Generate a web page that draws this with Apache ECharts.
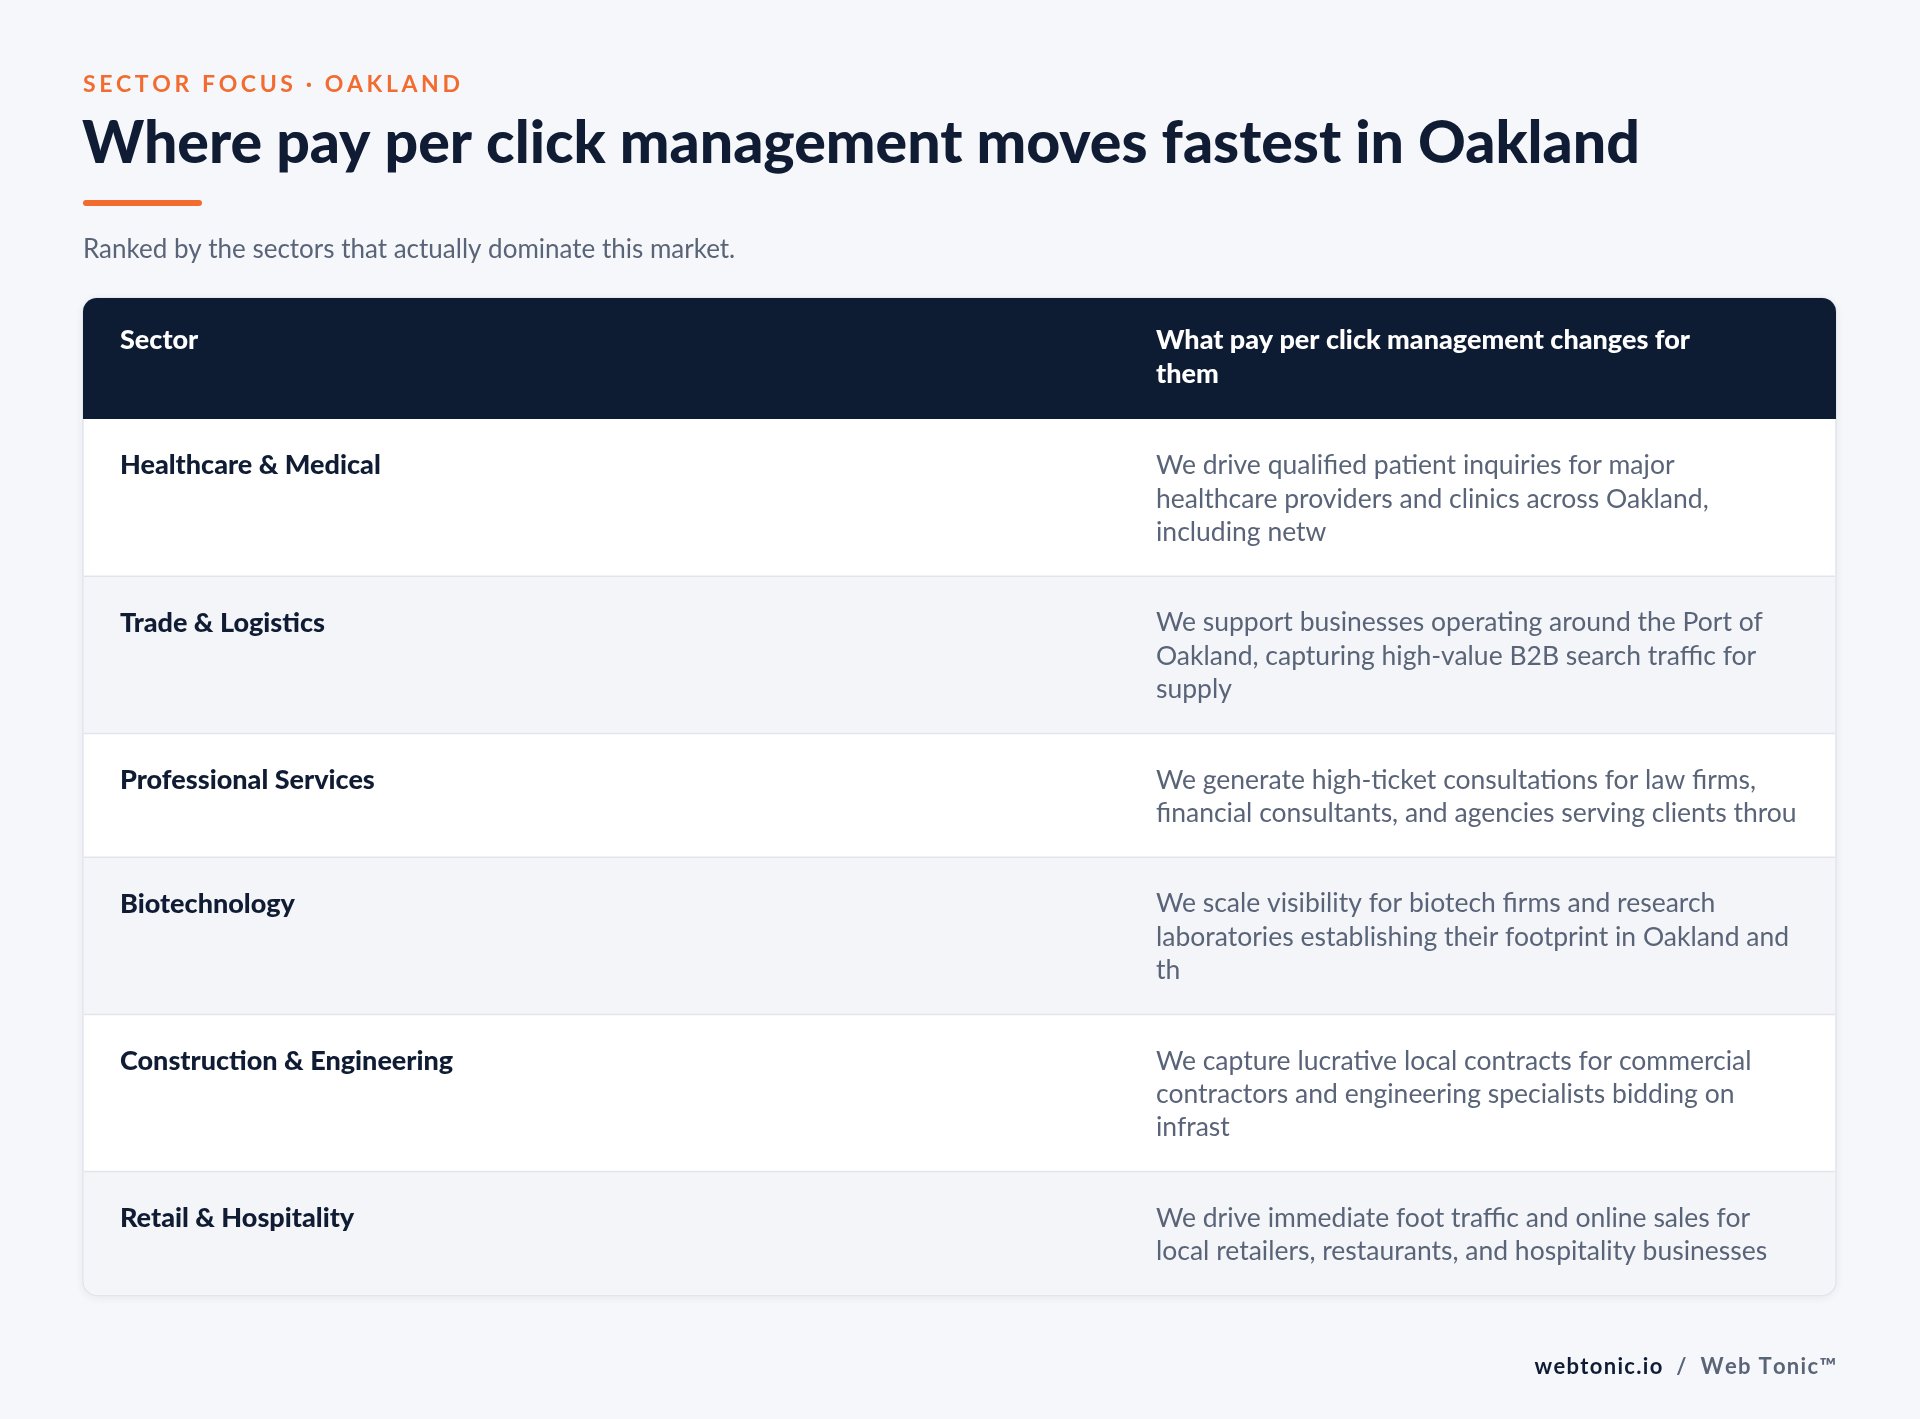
<!DOCTYPE html>
<html><head><meta charset="utf-8">
<script src="https://cdn.jsdelivr.net/npm/echarts@6/dist/echarts.min.js"></script>
<style>html,body{margin:0;padding:0;background:#F5F7FA}#c{width:1920px;height:1419px}</style>
</head><body><div id="c"></div>
<script>
const kicker = "SECTOR FOCUS · OAKLAND";
const title = "Where pay per click management moves fastest in Oakland";
const subtitle = "Ranked by the sectors that actually dominate this market.";
const headers = ["Sector", "What pay per click management changes for\nthem"];
const sectors = ["Healthcare & Medical","Trade & Logistics","Professional Services","Biotechnology","Construction & Engineering","Retail & Hospitality"];
const descriptions = [
 "We drive qualified patient inquiries for major\nhealthcare providers and clinics across Oakland,\nincluding netw",
 "We support businesses operating around the Port of\nOakland, capturing high-value B2B search traffic for\nsupply",
 "We generate high-ticket consultations for law firms,\nfinancial consultants, and agencies serving clients throu",
 "We scale visibility for biotech firms and research\nlaboratories establishing their footprint in Oakland and\nth",
 "We capture lucrative local contracts for commercial\ncontractors and engineering specialists bidding on\ninfrast",
 "We drive immediate foot traffic and online sales for\nlocal retailers, restaurants, and hospitality businesses"
];
const footerBrand = "webtonic.io", footerName = "Web Tonic™";

const F = "Lato, 'Noto Sans', sans-serif";
const L = 83, R = 1836, W = R - L, TOP = 298, C2 = 1156, LH = 33.4;
const ctx = document.createElement('canvas').getContext('2d');
function spaced(str, x, y, font, fill, sp, align){
  ctx.font = font;
  const ws = [...str].map(c=>ctx.measureText(c).width);
  const total = ws.reduce((a,b)=>a+b,0) + sp*(ws.length-1);
  let cx = align==='right' ? x-total : x;
  const out = [];
  [...str].forEach((c,i)=>{ out.push({type:'text', x:cx, y:y, style:{text:c, font:font, fill:fill, verticalAlign:'top'}}); cx += ws[i]+sp; });
  return {els:out, width:total};
}
const g = [];
g.push(...spaced(kicker, L, 73, "bold 23px "+F, '#F26B2F', 3.6).els);
g.push({type:'text', x:L-1, y:114, style:{text:title, font:"900 59px "+F, fill:'#0F1C33', verticalAlign:'top'}});
g.push({type:'rect', shape:{x:L, y:200, width:119, height:6, r:3}, style:{fill:'#F26B2F'}});
g.push({type:'text', x:L, y:237, style:{text:subtitle, font:"26px "+F, fill:'#5A6478', verticalAlign:'top'}});
let y = TOP + 121;
const rows = [];
sectors.forEach((s,i)=>{ const n = descriptions[i].split("\n").length; const h = 57 + n*LH; rows.push({y, h}); y += h; });
const BOT = y;
g.push({type:'rect', shape:{x:L, y:TOP, width:W, height:BOT-TOP, r:14}, style:{fill:'#fff', stroke:'#E1E5EB', lineWidth:1.5, shadowBlur:10, shadowColor:'rgba(15,28,51,0.06)', shadowOffsetY:2}});
rows.forEach((r,i)=>{
  if(i%2===1){
    const last = i===rows.length-1;
    g.push({type:'rect', shape:{x:L+1, y:r.y, width:W-2, height:r.h-(last?1:0), r:last?[0,0,13,13]:0}, style:{fill:'#F3F5F8'}});
  }
  if(i>0) g.push({type:'rect', shape:{x:L+1, y:r.y-0.75, width:W-2, height:1.5}, style:{fill:'#E1E5EB'}});
  g.push({type:'text', x:120, y:r.y+30, style:{text:sectors[i], font:"900 27px "+F, fill:'#0F1C33', lineHeight:LH, verticalAlign:'top'}});
  g.push({type:'text', x:C2, y:r.y+30, style:{text:descriptions[i], font:"26.5px "+F, fill:'#5A6478', lineHeight:LH, verticalAlign:'top'}});
});
g.push({type:'rect', shape:{x:L, y:TOP, width:W, height:121, r:[14,14,0,0]}, style:{fill:'#0D1B33'}});
g.push({type:'text', x:120, y:TOP+26, style:{text:headers[0], font:"900 27px "+F, fill:'#fff', lineHeight:LH, verticalAlign:'top'}});
g.push({type:'text', x:C2, y:TOP+26, style:{text:headers[1], font:"900 27px "+F, fill:'#fff', lineHeight:LH, verticalAlign:'top'}});
const fn = spaced(footerName, R, 1356, "bold 22px "+F, '#5A6478', 1.3, 'right');
g.push(...fn.els);
const sl = spaced("/", R - fn.width - 14, 1356, "bold 22px "+F, '#5A6478', 0, 'right');
g.push(...sl.els);
g.push(...spaced(footerBrand, R - fn.width - 14 - sl.width - 14, 1356, "bold 22px "+F, '#0F1C33', 1.3, 'right').els);
const chart = echarts.init(document.getElementById('c'));
chart.setOption({backgroundColor:'#F5F7FA', graphic:g});
</script></body></html>
